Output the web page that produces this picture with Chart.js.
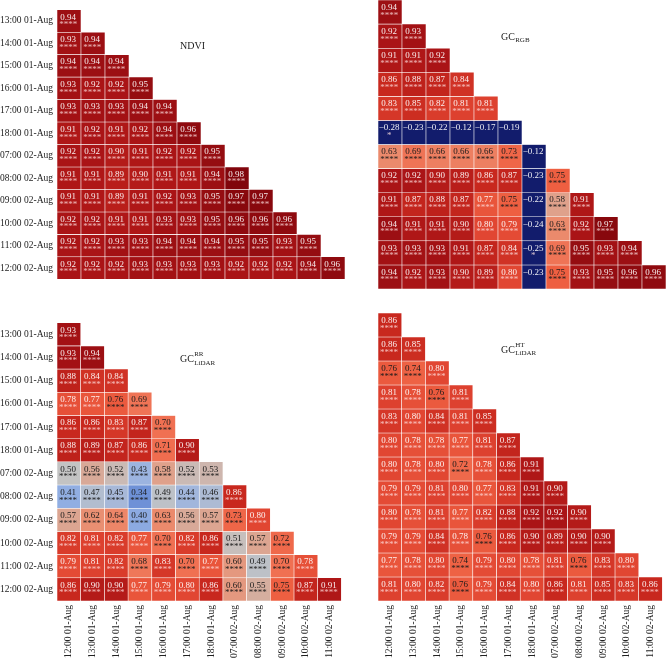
<!DOCTYPE html>
<html>
<head>
<meta charset="utf-8">
<script src="https://cdn.jsdelivr.net/npm/chart.js@4.4.1/dist/chart.umd.min.js"></script>
<style>
  html, body { margin: 0; padding: 0; background: #fff; }
  body { width: 666px; height: 658px; position: relative; overflow: hidden; }
  canvas { position: absolute; }
</style>
</head>
<body>
<canvas id="ndvi" width="345" height="289" style="left:0px;top:0px"></canvas>
<canvas id="rgb" width="288" height="289" style="left:378px;top:0px"></canvas>
<canvas id="rr" width="345" height="345" style="left:0px;top:313px"></canvas>
<canvas id="ht" width="288" height="345" style="left:378px;top:313px"></canvas>
<script>
const rowLabels = [
  '13:00 01-Aug', '14:00 01-Aug', '15:00 01-Aug', '16:00 01-Aug', '17:00 01-Aug', '18:00 01-Aug',
  '07:00 02-Aug', '08:00 02-Aug', '09:00 02-Aug', '10:00 02-Aug', '11:00 02-Aug', '12:00 02-Aug',
];
const colLabels = [
  '12:00 01-Aug', '13:00 01-Aug', '14:00 01-Aug', '15:00 01-Aug', '16:00 01-Aug', '17:00 01-Aug',
  '18:00 01-Aug', '07:00 02-Aug', '08:00 02-Aug', '09:00 02-Aug', '10:00 02-Aug', '11:00 02-Aug',
];

const ndvi = [
  [0.94],
  [0.93, 0.94],
  [0.94, 0.94, 0.94],
  [0.93, 0.92, 0.92, 0.95],
  [0.93, 0.93, 0.93, 0.94, 0.94],
  [0.91, 0.92, 0.91, 0.92, 0.94, 0.96],
  [0.92, 0.92, 0.90, 0.91, 0.92, 0.92, 0.95],
  [0.91, 0.91, 0.89, 0.90, 0.91, 0.91, 0.94, 0.98],
  [0.91, 0.91, 0.89, 0.91, 0.92, 0.93, 0.95, 0.97, 0.97],
  [0.92, 0.92, 0.91, 0.91, 0.93, 0.93, 0.95, 0.96, 0.96, 0.96],
  [0.92, 0.92, 0.93, 0.93, 0.94, 0.94, 0.94, 0.95, 0.95, 0.93, 0.95],
  [0.92, 0.92, 0.92, 0.93, 0.93, 0.93, 0.93, 0.92, 0.92, 0.92, 0.94, 0.96],
];

const gcRgb = [
  [0.94],
  [0.92, 0.93],
  [0.91, 0.91, 0.92],
  [0.86, 0.88, 0.87, 0.84],
  [0.83, 0.85, 0.82, 0.81, 0.81],
  [-0.28, -0.23, -0.22, -0.12, -0.17, -0.19],
  [0.63, 0.69, 0.66, 0.66, 0.66, 0.73, -0.12],
  [0.92, 0.92, 0.90, 0.89, 0.86, 0.87, -0.23, 0.75],
  [0.91, 0.87, 0.88, 0.87, 0.77, 0.75, -0.22, 0.58, 0.91],
  [0.94, 0.91, 0.91, 0.90, 0.80, 0.79, -0.24, 0.63, 0.92, 0.97],
  [0.93, 0.93, 0.93, 0.91, 0.87, 0.84, -0.25, 0.69, 0.95, 0.93, 0.94],
  [0.94, 0.92, 0.93, 0.90, 0.89, 0.80, -0.23, 0.75, 0.93, 0.95, 0.96, 0.96],
];

const gcLidarRR = [
  [0.93],
  [0.93, 0.94],
  [0.88, 0.84, 0.84],
  [0.78, 0.77, 0.76, 0.69],
  [0.86, 0.86, 0.83, 0.87, 0.70],
  [0.88, 0.89, 0.87, 0.86, 0.71, 0.90],
  [0.50, 0.56, 0.52, 0.43, 0.58, 0.52, 0.53],
  [0.41, 0.47, 0.45, 0.34, 0.49, 0.44, 0.46, 0.86],
  [0.57, 0.62, 0.64, 0.40, 0.63, 0.56, 0.57, 0.73, 0.80],
  [0.82, 0.81, 0.82, 0.77, 0.70, 0.82, 0.86, 0.51, 0.57, 0.72],
  [0.79, 0.81, 0.82, 0.68, 0.83, 0.70, 0.77, 0.60, 0.49, 0.70, 0.78],
  [0.86, 0.90, 0.90, 0.77, 0.79, 0.80, 0.86, 0.60, 0.55, 0.75, 0.87, 0.91],
];

const gcLidarHT = [
  [0.86],
  [0.86, 0.85],
  [0.76, 0.74, 0.80],
  [0.81, 0.78, 0.76, 0.81],
  [0.83, 0.80, 0.84, 0.81, 0.85],
  [0.80, 0.78, 0.78, 0.77, 0.81, 0.87],
  [0.80, 0.78, 0.80, 0.72, 0.78, 0.86, 0.91],
  [0.79, 0.79, 0.81, 0.80, 0.77, 0.83, 0.91, 0.90],
  [0.80, 0.78, 0.81, 0.77, 0.82, 0.88, 0.92, 0.92, 0.90],
  [0.79, 0.79, 0.84, 0.78, 0.76, 0.86, 0.90, 0.89, 0.90, 0.90],
  [0.77, 0.78, 0.80, 0.74, 0.79, 0.80, 0.78, 0.81, 0.76, 0.83, 0.80],
  [0.81, 0.80, 0.82, 0.76, 0.79, 0.84, 0.80, 0.86, 0.81, 0.85, 0.83, 0.86],
];

// navy -> blue -> grey -> salmon -> red -> dark red
const colorStops = [
  [0.00, [18, 28, 108]],
  [0.34, [110, 145, 215]],
  [0.42, [150, 178, 228]],
  [0.50, [195, 195, 195]],
  [0.57, [220, 165, 145]],
  [0.63, [235, 138, 108]],
  [0.70, [240, 112, 82]],
  [0.75, [238, 95, 65]],
  [0.80, [225, 70, 50]],
  [0.86, [200, 40, 30]],
  [0.92, [170, 20, 22]],
  [1.00, [115, 0, 8]],
];

const FONT = '"Liberation Serif", "DejaVu Serif", serif';

function cellColor(v) {
  const t = Math.max(0, Math.min(1, v));
  for (let k = 1; k < colorStops.length; k++) {
    const [t1, c1] = colorStops[k];
    if (t <= t1) {
      const [t0, c0] = colorStops[k - 1];
      const f = (t - t0) / (t1 - t0);
      const rgb = c0.map((c, n) => Math.round(c + (c1[n] - c) * f));
      return `rgb(${rgb.join(',')})`;
    }
  }
  return 'rgb(115,0,8)';
}

function stars(v) {
  const a = Math.abs(v);
  if (a >= 0.3) return '****';
  if (a >= 0.25) return '*';
  return '';
}

function isDark(v) {
  return v >= 0.3 && v < 0.765;
}

function formatValue(v) {
  const s = Math.abs(v).toFixed(2);
  return v < 0 ? `\u2212${s}` : s;
}

function makePanel(canvasId, values, title, showRows, showCols) {
  const datasets = rowLabels.map((row, i) => ({
    label: row,
    data: colLabels.map((col, j) => (j <= i ? [i, i + 1] : null)),
    backgroundColor: (ctx) => cellColor(values[i][ctx.dataIndex]),
    borderColor: '#ffffff',
    borderWidth: 0.6,
    borderSkipped: false,
    grouped: false,
    barPercentage: 1,
    categoryPercentage: 1,
  }));

  const cellLabels = {
    id: 'cellLabels',
    afterDatasetsDraw(chart) {
      const { ctx, scales } = chart;
      ctx.save();
      ctx.textAlign = 'center';
      ctx.textBaseline = 'alphabetic';
      values.forEach((row, i) => {
        row.forEach((v, j) => {
          const cx = scales.x.getPixelForValue(j) - 0.8;
          const top = scales.y.getPixelForValue(i);
          const dark = isDark(v);
          ctx.font = `9px ${FONT}`;
          ctx.fillStyle = dark ? '#1b1b1b' : 'rgba(255,255,255,0.92)';
          ctx.fillText(formatValue(v), cx, top + 9.8);
          const s = stars(v);
          if (s) {
            ctx.fillStyle = dark ? '#1b1b1b' : 'rgba(255,225,225,0.8)';
            ctx.fillText(s, cx, top + 17.5);
          }
        });
      });
      ctx.restore();
    },
  };

  const panelTitle = {
    id: 'panelTitle',
    afterDraw(chart) {
      const { ctx, chartArea } = chart;
      let x = chartArea.left + 123;
      const y = chartArea.top + 39.5;
      ctx.save();
      ctx.fillStyle = '#222';
      ctx.textAlign = 'left';
      ctx.textBaseline = 'alphabetic';
      ctx.font = `10px ${FONT}`;
      ctx.fillText(title.main, x, y);
      x += ctx.measureText(title.main).width + 0.3;
      ctx.font = `7px ${FONT}`;
      if (title.sup) ctx.fillText(title.sup, x, y - 6);
      if (title.sub) ctx.fillText(title.sub, x, y + 2.5);
      ctx.restore();
    },
  };

  return new Chart(document.getElementById(canvasId), {
    type: 'bar',
    data: { labels: colLabels, datasets },
    options: {
      responsive: false,
      animation: false,
      devicePixelRatio: 1,
      layout: { padding: 0 },
      plugins: {
        legend: { display: false },
        tooltip: { enabled: false },
      },
      scales: {
        x: {
          display: showCols,
          grid: { display: false, drawTicks: false, tickLength: 0 },
          border: { display: false },
          ticks: {
            color: '#222',
            font: { family: FONT, size: 9.5 },
            minRotation: 90,
            maxRotation: 90,
            autoSkip: false,
            padding: 4,
          },
          afterFit: (scale) => { if (showCols) scale.height = 57; },
        },
        y: {
          type: 'linear',
          display: showRows,
          reverse: true,
          min: 0,
          max: 12,
          grid: { display: false, drawTicks: false, tickLength: 0 },
          border: { display: false },
          afterBuildTicks: (scale) => {
            scale.ticks = rowLabels.map((_, i) => ({ value: i + 0.5 }));
          },
          ticks: {
            color: '#222',
            font: { family: FONT, size: 9.5 },
            autoSkip: false,
            padding: 4,
            callback: (value, index) => rowLabels[index],
          },
          afterFit: (scale) => { if (showRows) scale.width = 57; },
        },
      },
    },
    plugins: [cellLabels, panelTitle],
  });
}

makePanel('ndvi', ndvi, { main: 'NDVI' }, true, false);
makePanel('rgb', gcRgb, { main: 'GC', sub: 'RGB' }, false, false);
makePanel('rr', gcLidarRR, { main: 'GC', sup: 'RR', sub: 'LiDAR' }, true, true);
makePanel('ht', gcLidarHT, { main: 'GC', sup: 'HT', sub: 'LiDAR' }, false, true);
</script>
</body>
</html>
